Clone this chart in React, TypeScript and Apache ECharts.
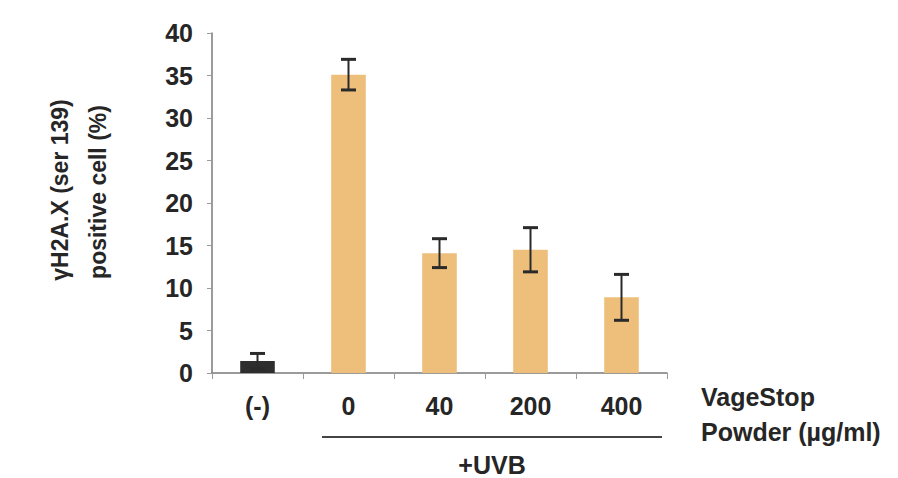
import React, { useEffect, useRef } from "react";
import * as echarts from "echarts";

const categories = ["(-)", "0", "40", "200", "400"];
const means = [1.4, 35.1, 14.1, 14.5, 8.9];
const errors = [0.9, 1.8, 1.7, 2.6, 2.7];
const yTicks = { min: 0, max: 40, interval: 5 };
const yTitleLines = ["γH2A.X (ser 139)", "positive cell (%)"];
const groupLabel = ["VageStop", "Powder (µg/ml)"];
const treatmentLabel = "+UVB";

const FONT = "'Liberation Sans', Arial, sans-serif";
const TXT = "#262626";

export default function App() {
  const ref = useRef<HTMLDivElement>(null);
  useEffect(() => {
    if (!ref.current) return;
    const chart = echarts.init(ref.current, undefined, { renderer: "svg" });
    chart.setOption({
      animation: false,
      backgroundColor: "#ffffff",
      grid: { left: 212, top: 33, right: 231, bottom: 105, containLabel: false },
      xAxis: {
        type: "category",
        data: categories,
        axisLine: { lineStyle: { color: "#7a7a7a", width: 1.5 } },
        axisTick: { show: true, length: 6, lineStyle: { color: "#9a9a9a" } },
        axisLabel: { fontFamily: FONT, fontSize: 25, fontWeight: "bold", color: TXT, margin: 20 },
      },
      yAxis: {
        type: "value",
        min: yTicks.min,
        max: yTicks.max,
        interval: yTicks.interval,
        splitLine: { show: false },
        axisLine: { show: true, lineStyle: { color: "#7a7a7a", width: 1.5 } },
        axisTick: { show: true, length: 5, lineStyle: { color: "#9a9a9a" } },
        axisLabel: { fontFamily: FONT, fontSize: 25, fontWeight: "bold", color: TXT, margin: 19 },
      },
      series: [
        {
          type: "bar",
          barWidth: "38%",
          data: means.map((v, i) => ({
            value: v,
            itemStyle: { color: i === 0 ? "#2e2e2e" : "#EDBF7A" },
          })),
        },
        {
          type: "custom",
          data: means.map((v, i) => [i, v, errors[i]]),
          z: 10,
          renderItem: (params: any, api: any) => {
            const x = api.value(0);
            const y = api.value(1);
            const e = api.value(2);
            const top = api.coord([x, y + e]);
            const bot = api.coord([x, y - e]);
            const hw = 7.5;
            const style = { stroke: "#2a2a2a", lineWidth: 2 };
            return {
              type: "group",
              children: [
                { type: "line", shape: { x1: top[0], y1: top[1], x2: bot[0], y2: bot[1] }, style },
                { type: "line", shape: { x1: top[0] - hw, y1: top[1], x2: top[0] + hw, y2: top[1] }, style: { ...style, lineWidth: 3 } },
                { type: "line", shape: { x1: bot[0] - hw, y1: bot[1], x2: bot[0] + hw, y2: bot[1] }, style: { ...style, lineWidth: 3 } },
              ],
            };
          },
        },
      ],
      graphic: [
        {
          type: "text",
          x: 60,
          y: 190,
          rotation: Math.PI / 2,
          style: { text: yTitleLines[0], font: `bold 23px ${FONT}`, fill: TXT, align: "center", verticalAlign: "middle" },
        },
        {
          type: "text",
          x: 98,
          y: 192,
          rotation: Math.PI / 2,
          style: { text: yTitleLines[1], font: `bold 23px ${FONT}`, fill: TXT, align: "center", verticalAlign: "middle" },
        },
        {
          type: "text",
          x: 701,
          y: 397,
          style: { text: groupLabel[0], font: `bold 25px ${FONT}`, fill: TXT, align: "left", verticalAlign: "middle" },
        },
        {
          type: "text",
          x: 701,
          y: 432,
          style: { text: groupLabel[1], font: `bold 25px ${FONT}`, fill: TXT, align: "left", verticalAlign: "middle" },
        },
        {
          type: "line",
          shape: { x1: 322, y1: 437, x2: 662, y2: 437 },
          style: { stroke: "#444", lineWidth: 2 },
        },
        {
          type: "text",
          x: 492,
          y: 465,
          style: { text: treatmentLabel, font: `bold 25px ${FONT}`, fill: TXT, align: "center", verticalAlign: "middle" },
        },
      ],
    });
    return () => chart.dispose();
  }, []);
  return <div ref={ref} style={{ position: "fixed", left: 0, top: 0, width: 898, height: 478 }} />;
}
